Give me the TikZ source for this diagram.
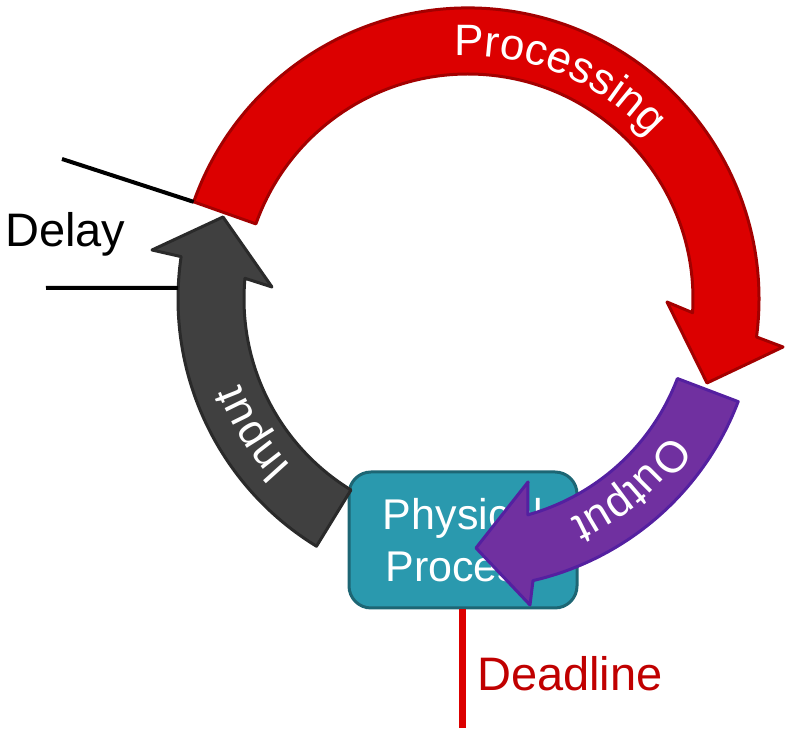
\documentclass[tikz,border=0pt]{standalone}
\usepackage{fontspec}
\setmainfont{Liberation Sans}
\usetikzlibrary{decorations.text}
\definecolor{procred}{HTML}{DC0000}
\definecolor{procredline}{HTML}{A30000}
\definecolor{inputgray}{HTML}{404040}
\definecolor{inputgrayline}{HTML}{2A2A2A}
\definecolor{outpurple}{HTML}{7030A0}
\definecolor{outpurpleline}{HTML}{5420A0}
\definecolor{physteal}{HTML}{2A99AE}
\definecolor{phystealline}{HTML}{1D6674}
\definecolor{deadred}{HTML}{C00000}
\newcommand{\arcfont}{\fontsize{44}{44}\selectfont\color{white}}
\begin{document}
\begin{tikzpicture}[x=1pt,y=1pt,
  band/.style={line width=3pt, line join=round},
  redband/.style={band, fill=procred, draw=procredline},
  grayband/.style={band, fill=inputgray, draw=inputgrayline},
  purpleband/.style={band, fill=outpurple, draw=outpurpleline},
  procbox/.style={draw=phystealline, fill=physteal, line width=3pt,
    rounded corners=22pt, minimum width=228pt, minimum height=136pt,
    align=center, text=white, font=\fontsize{43}{52}\selectfont},
  bigtext/.style={anchor=base west, inner sep=0pt, font=\fontsize{47}{47}\selectfont},
  marker/.style={line width=4pt},
  arclabel/.style={decorate, decoration={text along path, text align=center, text={|\arcfont|#1}}}
]
\useasboundingbox (0,0) rectangle (788,730);
\coordinate (C) at (468,431);

% red "Processing" arc arrow
\coordinate (redbarbA) at (667,428);
\coordinate (redtip) at (707,347);
\coordinate (redbarbB) at (783,383);
\draw[redband] ([shift={(C)}]160.5:291) coordinate (redstart)
  arc[start angle=160.5, end angle=-7.5, radius=291]
  -- (redbarbB) -- (redtip) -- (redbarbA)
  -- ([shift={(C)}]-3.5:225)
  arc[start angle=-3.5, end angle=160.5, radius=225] -- cycle;
\path[arclabel=Processing] ([shift={(C)}]107.5:243) arc[start angle=107.5, end angle=27.5, radius=243];

% physical process box
\node[procbox] (phys) at (463,190) {Physical\\Process};

% gray "Input" arc arrow
\coordinate (graybarbA) at (152,480);
\coordinate (graytip) at (223,513);
\coordinate (graybarbB) at (272,443);
\draw[grayband] ([shift={(C)}]238.5:290)
  arc[start angle=238.5, end angle=171.6, radius=290]
  -- (graybarbA) -- (graytip) -- (graybarbB)
  -- ([shift={(C)}]174.7:224)
  arc[start angle=174.7, end angle=238.5, radius=224] -- cycle;
\path[arclabel=Input] ([shift={(C)}]242:243) arc[start angle=242, end angle=182, radius=243];

% purple "Output" arc arrow
\coordinate (purpbarbA) at (530,125);
\coordinate (purptip) at (476,182);
\coordinate (purpbarbB) at (528,248);
\draw[purpleband] ([shift={(C)}]-20.8:289)
  arc[start angle=-20.8, end angle=-77, radius=289]
  -- (purpbarbA) -- (purptip) -- (purpbarbB)
  -- ([shift={(C)}]-74.5:224)
  arc[start angle=-74.5, end angle=-20.8, radius=224] -- cycle;
\path[arclabel=Output] ([shift={(C)}]-24.5:243) arc[start angle=-24.5, end angle=-74.5, radius=243];

% delay markers
\coordinate (delaytop) at (62,571);
\coordinate (delaybot) at (46,442);
\coordinate (grayedge) at ([shift={(C)}]177.8:290);
\draw[marker] (delaytop) -- (redstart);
\draw[marker] (delaybot) -- (grayedge);
\node[bigtext] (delay) at (5,483) {Delay};

% deadline marker
\coordinate (deadend) at (462,2);
\draw[line width=7pt, draw=procred] (phys.south -| deadend) -- (deadend);
\node[bigtext, text=deadred] (deadline) at (477,39) {Deadline};
\end{tikzpicture}
\end{document}
